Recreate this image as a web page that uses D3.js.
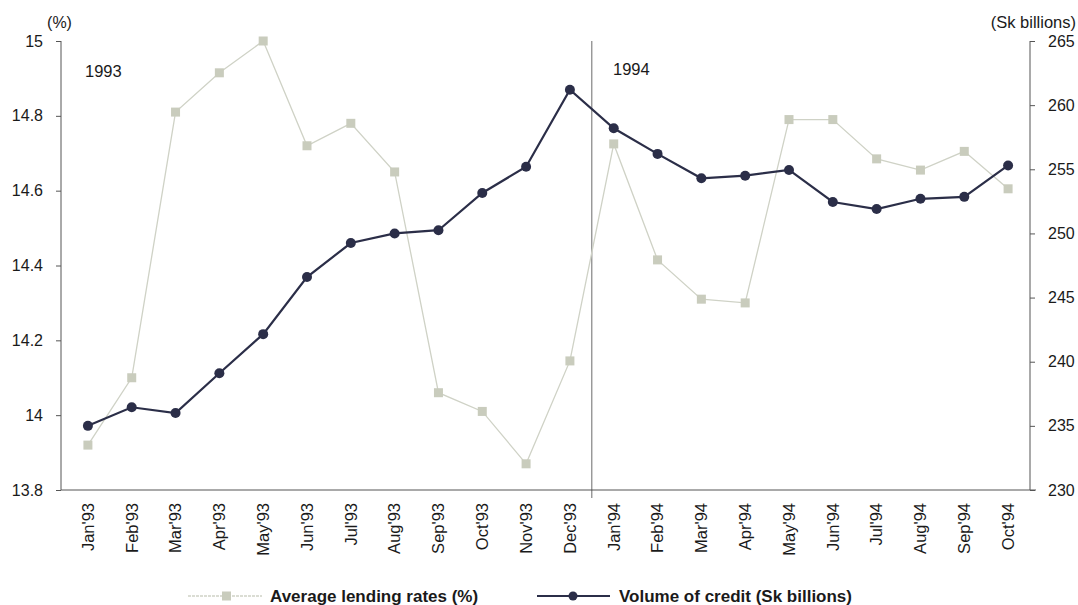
<!DOCTYPE html>
<html><head><meta charset="utf-8">
<script src="https://cdn.jsdelivr.net/npm/d3@7"></script>
<style>
body{margin:0;background:#fff;}
text{font-family:"Liberation Sans",Arial,sans-serif;fill:#1a1a1a;}
</style></head>
<body>
<svg id="chart" width="1078" height="605"></svg>
<script>
const months = ["Jan'93","Feb'93","Mar'93","Apr'93","May'93","Jun'93","Jul'93","Aug'93","Sep'93","Oct'93","Nov'93","Dec'93",
"Jan'94","Feb'94","Mar'94","Apr'94","May'94","Jun'94","Jul'94","Aug'94","Sep'94","Oct'94"];
const lendingRates = [13.92,14.10,14.81,14.915,15.0,14.72,14.78,14.65,14.06,14.01,13.87,14.145,
14.725,14.415,14.31,14.30,14.79,14.79,14.685,14.655,14.705,14.605];
const creditVolume = [235.0,236.45,236.0,239.1,242.15,246.6,249.25,250.0,250.25,253.15,255.2,261.2,
258.2,256.2,254.3,254.5,254.95,252.45,251.9,252.7,252.85,255.3];
const leftTicks = [13.8,14,14.2,14.4,14.6,14.8,15];
const rightTicks = [230,235,240,245,250,255,260,265];

const svg = d3.select("#chart");
const axisL = 61, axisR = 1030, plotTop = 41, plotBottom = 490;
const x = d3.scaleBand().domain(months).range([66, 1030]);
const yL = d3.scaleLinear().domain([13.8, 15]).range([plotBottom, plotTop]);
const yR = d3.scaleLinear().domain([230, 265]).range([plotBottom, plotTop]);
const axisColor = "#555";

// left axis
const gL = svg.append("g").attr("transform", `translate(${axisL},0)`)
  .call(d3.axisLeft(yL).tickValues(leftTicks).tickSize(5).tickFormat(d => d3.format("")(d)));
gL.select(".domain").attr("stroke", axisColor).attr("d", `M0,${plotTop}V${plotBottom}`);
gL.selectAll(".tick line").attr("stroke", axisColor);
gL.selectAll(".tick text").attr("font-size", 16).attr("x", -18).attr("fill", "#1a1a1a").style("font-family", "Liberation Sans, Arial");

// right axis
const gR = svg.append("g").attr("transform", `translate(${axisR},0)`)
  .call(d3.axisRight(yR).tickValues(rightTicks).tickSize(5));
gR.select(".domain").attr("stroke", axisColor).attr("d", `M0,${plotTop}V${plotBottom}`);
gR.selectAll(".tick line").attr("stroke", axisColor);
gR.selectAll(".tick text").attr("font-size", 16).attr("x", 18).attr("fill", "#1a1a1a").style("font-family", "Liberation Sans, Arial");

// bottom axis
const gB = svg.append("g").attr("transform", `translate(0,${plotBottom})`)
  .call(d3.axisBottom(x).tickSize(0));
gB.select(".domain").attr("stroke", axisColor).attr("d", `M${axisL},0H${axisR + 6}`);
gB.selectAll(".tick text")
  .attr("transform", "rotate(-90)")
  .attr("text-anchor", "end")
  .attr("x", -13).attr("y", 0).attr("dy", "0.35em")
  .attr("fill", "#1a1a1a")
  .attr("font-size", 16.5).style("font-family", "Liberation Sans, Arial");

// year divider
const divX = x("Dec'93") + x.bandwidth();
svg.append("line").attr("x1", divX).attr("x2", divX).attr("y1", plotTop).attr("y2", plotBottom + 8)
  .attr("stroke", "#444").attr("stroke-width", 0.8);

// axis unit labels
svg.append("text").attr("x", 59.5).attr("y", 28).attr("font-size", 16).attr("text-anchor", "middle").text("(%)");
svg.append("text").attr("x", 1076).attr("y", 28).attr("font-size", 16.5).attr("text-anchor", "end").text("(Sk billions)");
svg.append("text").attr("x", 85).attr("y", 77).attr("font-size", 16.5).text("1993");
svg.append("text").attr("x", 613).attr("y", 75).attr("font-size", 16.5).text("1994");

const cx = d => x(d) + x.bandwidth() / 2;
const greyLine = "#cfd2c6", greyMark = "#c9ccbd", navy = "#2b2e48";

// lending rates
svg.append("path").datum(lendingRates)
  .attr("fill", "none").attr("stroke", greyLine).attr("stroke-width", 1.3)
  .attr("d", d3.line().x((d, i) => cx(months[i])).y(d => yL(d)));
svg.selectAll(".sq").data(lendingRates).enter().append("rect")
  .attr("x", (d, i) => cx(months[i]) - 4.5).attr("y", d => yL(d) - 4.5)
  .attr("width", 9).attr("height", 9).attr("fill", greyMark);

// credit volume
svg.append("path").datum(creditVolume)
  .attr("fill", "none").attr("stroke", navy).attr("stroke-width", 2.2)
  .attr("d", d3.line().x((d, i) => cx(months[i])).y(d => yR(d)));
svg.selectAll(".dot").data(creditVolume).enter().append("circle")
  .attr("cx", (d, i) => cx(months[i])).attr("cy", d => yR(d)).attr("r", 5).attr("fill", navy);

// legend
const ly = 596;
svg.append("line").attr("x1", 188).attr("x2", 262).attr("y1", ly).attr("y2", ly).attr("stroke", greyLine).attr("stroke-width", 1.3).attr("stroke-dasharray", "3,1");
svg.append("rect").attr("x", 222).attr("y", ly - 4.5).attr("width", 9).attr("height", 9).attr("fill", greyMark);
svg.append("text").attr("x", 270).attr("y", ly + 6).attr("font-size", 17).attr("font-weight", "bold").text("Average lending rates (%)");
svg.append("line").attr("x1", 537).attr("x2", 610).attr("y1", ly).attr("y2", ly).attr("stroke", navy).attr("stroke-width", 2);
svg.append("circle").attr("cx", 573).attr("cy", ly).attr("r", 4.5).attr("fill", navy);
svg.append("text").attr("x", 619).attr("y", ly + 6).attr("font-size", 17).attr("font-weight", "bold").text("Volume of credit (Sk billions)");
</script>
</body></html>
